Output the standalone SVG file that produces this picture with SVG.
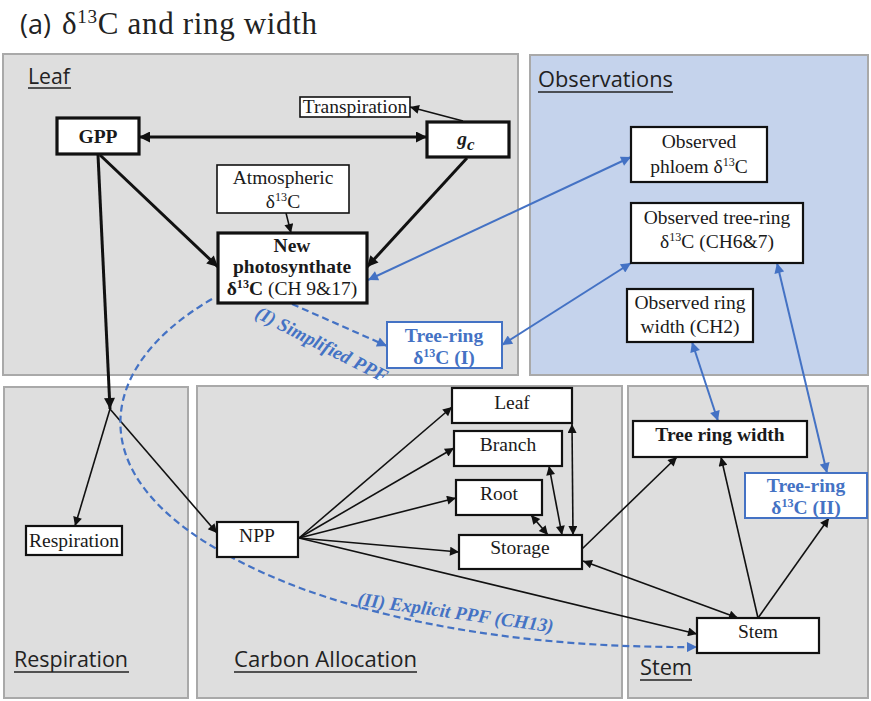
<svg xmlns="http://www.w3.org/2000/svg" width="871" height="701" viewBox="0 0 871 701">
  <style>
    .panel { fill: #dedede; stroke: #a9a9a9; stroke-width: 2; }
    .panel-obs { fill: #c5d3ec; stroke: #a9a9a9; stroke-width: 2; }
    .sec { font-family: "Open Sans", "Liberation Sans", sans-serif; font-size: 21px; fill: #222; }
    .uline { stroke: #222; stroke-width: 1.5; }
    .box { fill: #fff; stroke: #111; stroke-width: 1.6; }
    .box2 { fill: #fff; stroke: #111; stroke-width: 2.2; }
    .boxb { fill: #fff; stroke: #111; stroke-width: 3.2; }
    .boxblue { fill: #fff; stroke: #4472c4; stroke-width: 2; }
    .t { font-family: "Liberation Serif", "Times New Roman", serif; font-size: 19.5px; fill: #1a1a1a; text-anchor: middle; }
    .tb { font-weight: bold; }
    .blue { fill: #4472c4; }
    .sup { font-size: 0.62em; }
    .thick { stroke: #111; stroke-width: 3; fill: none; }
    .thin { stroke: #111; stroke-width: 1.6; fill: none; }
    .bl { stroke: #4472c4; stroke-width: 2; fill: none; }
    .bld { stroke: #4472c4; stroke-width: 2.2; fill: none; stroke-dasharray: 7 4; }
    .lbl { font-family: "Liberation Serif", "Times New Roman", serif; font-size: 19px; font-weight: bold; font-style: italic; fill: #4472c4; }
  </style>
  <defs>
    <marker id="ahk" viewBox="0 0 10 10" refX="10" refY="5" markerWidth="11" markerHeight="9" markerUnits="userSpaceOnUse" orient="auto-start-reverse">
      <path d="M0,0 L10,5 L0,10 z" fill="#111"/>
    </marker>
    <marker id="ahkL" viewBox="0 0 10 10" refX="10" refY="5" markerWidth="13" markerHeight="11" markerUnits="userSpaceOnUse" orient="auto-start-reverse">
      <path d="M0,0 L10,5 L0,10 z" fill="#111"/>
    </marker>
    <marker id="ahb" viewBox="0 0 10 10" refX="10" refY="5" markerWidth="12" markerHeight="10" markerUnits="userSpaceOnUse" orient="auto-start-reverse">
      <path d="M0,0 L10,5 L0,10 z" fill="#4472c4"/>
    </marker>
  </defs>

  <rect width="871" height="701" fill="#fff"/>

  <!-- title -->
  <text x="20" y="34" font-family="'Open Sans', 'Liberation Sans', sans-serif" font-size="27" fill="#222">(a)</text>
  <text x="62" y="34" font-family="'Liberation Serif', 'Times New Roman', serif" font-size="31" fill="#222" textLength="255" lengthAdjust="spacing">δ<tspan class="sup" dy="-11">13</tspan><tspan dy="11">C and ring width</tspan></text>

  <!-- compartments -->
  <g id="panels">
    <rect class="panel" x="3" y="54" width="515" height="321"/>
    <rect class="panel-obs" x="530" y="55" width="338" height="320"/>
    <rect class="panel" x="4" y="387" width="184" height="311"/>
    <rect class="panel" x="197" y="386" width="425" height="312"/>
    <rect class="panel" x="628" y="386" width="240" height="312"/>
    <text class="sec" x="28" y="84" textLength="42" lengthAdjust="spacingAndGlyphs">Leaf</text>
    <line class="uline" x1="28" y1="88" x2="71" y2="88"/>
    <text class="sec" x="538" y="87" textLength="135" lengthAdjust="spacingAndGlyphs">Observations</text>
    <line class="uline" x1="538" y1="92" x2="673" y2="92"/>
    <text class="sec" x="14" y="667" textLength="114" lengthAdjust="spacingAndGlyphs">Respiration</text>
    <line class="uline" x1="14" y1="672" x2="129" y2="672"/>
    <text class="sec" x="234" y="667" textLength="183" lengthAdjust="spacingAndGlyphs">Carbon Allocation</text>
    <line class="uline" x1="234" y1="672" x2="417" y2="672"/>
    <text class="sec" x="640" y="675" textLength="52" lengthAdjust="spacingAndGlyphs">Stem</text>
    <line class="uline" x1="640" y1="680" x2="692" y2="680"/>
  </g>

  <!-- connectors -->
  <g id="connectors">
    <!-- leaf fluxes -->
    <path class="thick" d="M139,137 L427,137" marker-start="url(#ahkL)" marker-end="url(#ahkL)"/>
    <path class="thick" d="M100,155 L218,267" marker-end="url(#ahkL)"/>
    <path class="thick" d="M98,155 L110,409" marker-end="url(#ahkL)"/>
    <path class="thick" d="M467,158 L367,267" marker-end="url(#ahkL)"/>
    <path class="thin" d="M463,121 L410,107" marker-end="url(#ahk)"/>
    <path class="thin" d="M286,213 L291,233" marker-end="url(#ahk)"/>
    <!-- GPP split -->
    <path class="thin" d="M110,409 L75,526" marker-end="url(#ahk)"/>
    <path class="thin" d="M110,409 L217,533" marker-end="url(#ahk)"/>
    <!-- NPP allocation -->
    <path class="thin" d="M299,538 L452,407" marker-end="url(#ahk)"/>
    <path class="thin" d="M299,538 L454,448" marker-end="url(#ahk)"/>
    <path class="thin" d="M299,538 L456,498" marker-end="url(#ahk)"/>
    <path class="thin" d="M299,538 L459,552" marker-end="url(#ahk)"/>
    <path class="thin" d="M299,538 L697,634" marker-end="url(#ahk)"/>
    <!-- storage exchanges -->
    <path class="thin" d="M572,424 L573,535" marker-start="url(#ahk)" marker-end="url(#ahk)"/>
    <path class="thin" d="M549,466 L562,535" marker-start="url(#ahk)" marker-end="url(#ahk)"/>
    <path class="thin" d="M531,515 L548,535" marker-start="url(#ahk)" marker-end="url(#ahk)"/>
    <path class="thin" d="M582,549 L677,457" marker-end="url(#ahk)"/>
    <path class="thin" d="M583,561 L738,618" marker-start="url(#ahk)" marker-end="url(#ahk)"/>
    <!-- stem outputs -->
    <path class="thin" d="M758,618 L721,457" marker-end="url(#ahk)"/>
    <path class="thin" d="M758,618 L829,518" marker-end="url(#ahk)"/>
    <!-- observation links -->
    <path class="bl" d="M368,280 L631,157" marker-start="url(#ahb)" marker-end="url(#ahb)"/>
    <path class="bl" d="M502,345 L631,263" marker-start="url(#ahb)" marker-end="url(#ahb)"/>
    <path class="bl" d="M692,342 L718,421" marker-start="url(#ahb)" marker-end="url(#ahb)"/>
    <path class="bl" d="M777,263 L827,473" marker-start="url(#ahb)" marker-end="url(#ahb)"/>
    <!-- PPF pathways -->
    <path class="bld" d="M292,304 L387,346" marker-end="url(#ahb)"/>
    <path class="bld" d="M212,299 C150,335 112,385 122,440 C133,500 200,550 300,588 C420,632 560,648 697,647" marker-end="url(#ahb)"/>
    <text class="lbl" transform="translate(254,317) rotate(27)">(I) Simplified PPF</text>
    <text class="lbl" transform="translate(357,605) rotate(8)">(II) Explicit PPF (CH13)</text>
  </g>

  <!-- leaf nodes -->
  <g id="gpp">
    <rect class="boxb" x="57" y="118" width="82" height="36"/>
    <text class="t tb" x="98" y="143" font-size="21">GPP</text>
  </g>
  <g id="gc">
    <rect class="boxb" x="427" y="122" width="82" height="35"/>
    <text class="t tb" x="466" y="145" font-size="25" font-style="italic">g<tspan font-size="17" dy="5">c</tspan></text>
  </g>
  <g id="transpiration">
    <rect class="box" x="300" y="97" width="110" height="20"/>
    <text class="t" x="355" y="113" font-size="18.5">Transpiration</text>
  </g>
  <g id="atmospheric">
    <rect class="box" x="217" y="165" width="132" height="48"/>
    <text class="t" x="283" y="184">Atmospheric</text>
    <text class="t" x="283" y="208">δ<tspan class="sup" dy="-7">13</tspan><tspan dy="7">C</tspan></text>
  </g>
  <g id="new-photosynthate">
    <rect class="boxb" x="218" y="233" width="149" height="70"/>
    <text class="t tb" x="292" y="252" font-size="17">New</text>
    <text class="t tb" x="292" y="273" font-size="18">photosynthate</text>
    <text class="t" x="292" y="295" font-size="18"><tspan font-weight="bold">δ<tspan class="sup" dy="-7">13</tspan><tspan dy="7">C</tspan></tspan> (CH 9&amp;17)</text>
  </g>
  <g id="tree-ring-i">
    <rect class="boxblue" x="387" y="322" width="115" height="46"/>
    <text class="t tb blue" x="444" y="342">Tree-ring</text>
    <text class="t tb blue" x="444" y="364">δ<tspan class="sup" dy="-7">13</tspan><tspan dy="7">C (I)</tspan></text>
  </g>

  <!-- observation nodes -->
  <g id="obs-phloem">
    <rect class="box2" x="631" y="127" width="136" height="55"/>
    <text class="t" x="699" y="148">Observed</text>
    <text class="t" x="699" y="173">phloem δ<tspan class="sup" dy="-7">13</tspan><tspan dy="7">C</tspan></text>
  </g>
  <g id="obs-tree-ring">
    <rect class="box2" x="631" y="203" width="172" height="60"/>
    <text class="t" x="717" y="224">Observed tree-ring</text>
    <text class="t" x="717" y="248">δ<tspan class="sup" dy="-7">13</tspan><tspan dy="7">C (CH6&amp;7)</tspan></text>
  </g>
  <g id="obs-ring-width">
    <rect class="box2" x="627" y="289" width="126" height="53"/>
    <text class="t" x="690" y="309">Observed ring</text>
    <text class="t" x="690" y="333">width (CH2)</text>
  </g>

  <!-- respiration and allocation nodes -->
  <g id="respiration">
    <rect class="box2" x="26" y="526" width="96" height="29"/>
    <text class="t" x="74" y="547">Respiration</text>
  </g>
  <g id="npp">
    <rect class="box2" x="217" y="522" width="81" height="35"/>
    <text class="t" x="257" y="542">NPP</text>
  </g>
  <g id="leaf">
    <rect class="box2" x="452" y="388" width="120" height="35"/>
    <text class="t" x="512" y="409">Leaf</text>
  </g>
  <g id="branch">
    <rect class="box2" x="454" y="431" width="108" height="35"/>
    <text class="t" x="508" y="451">Branch</text>
  </g>
  <g id="root">
    <rect class="box2" x="456" y="480" width="86" height="35"/>
    <text class="t" x="499" y="500">Root</text>
  </g>
  <g id="storage">
    <rect class="box2" x="459" y="535" width="123" height="34"/>
    <text class="t" x="520" y="554">Storage</text>
  </g>

  <!-- stem nodes -->
  <g id="tree-ring-width">
    <rect class="box2" x="633" y="421" width="174" height="36"/>
    <text class="t tb" x="720" y="441">Tree ring width</text>
  </g>
  <g id="tree-ring-ii">
    <rect class="boxblue" x="745" y="473" width="122" height="45"/>
    <text class="t tb blue" x="806" y="492">Tree-ring</text>
    <text class="t tb blue" x="806" y="514">δ<tspan class="sup" dy="-7">13</tspan><tspan dy="7">C (II)</tspan></text>
  </g>
  <g id="stem">
    <rect class="box2" x="697" y="618" width="122" height="35"/>
    <text class="t" x="758" y="638">Stem</text>
  </g>
</svg>
